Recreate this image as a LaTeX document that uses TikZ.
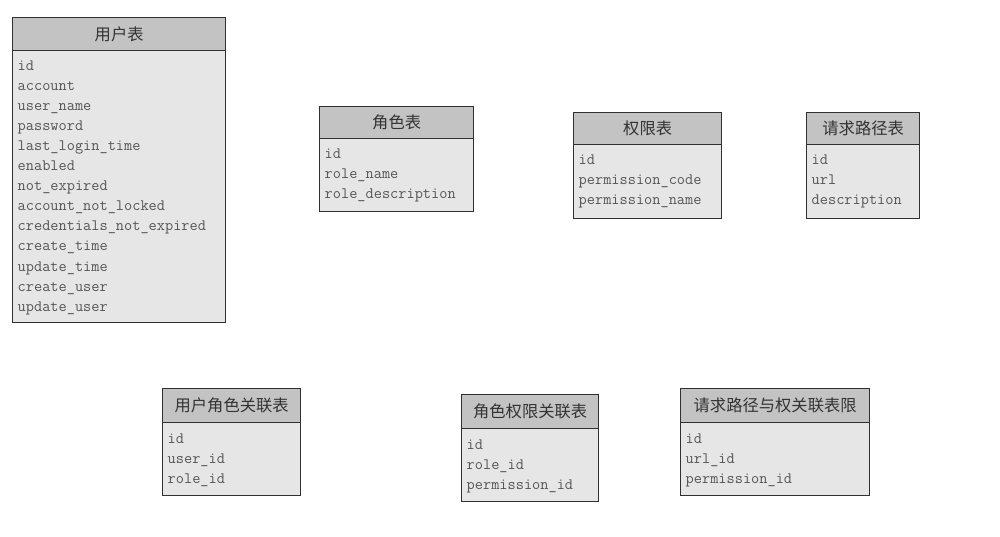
\documentclass[tikz,border=0pt]{standalone}
\usepackage{fontspec}
\newfontfamily\cjk{Noto Sans CJK SC}
\definecolor{hdr}{HTML}{C3C3C3}
\definecolor{bdy}{HTML}{E6E6E6}
\definecolor{edge}{HTML}{303030}
\definecolor{txt}{HTML}{555555}
\definecolor{shd}{HTML}{B8B8B8}
\tikzset{
  hdrbox/.style={draw=edge, fill=hdr, line width=1.3pt, inner sep=0pt, anchor=north west,
    font=\cjk\fontsize{16.3}{18}\selectfont, text=black!80},
  bodybox/.style={draw=edge, fill=bdy, line width=1.3pt, inner sep=0pt, anchor=north west},
  shadowbox/.style={fill=shd},
  field/.style={anchor=base west, inner sep=0pt, text=txt, font=\ttfamily\fontsize{15.9}{20}\selectfont}
}
% name, left, top, right, header bottom, bottom, title, fields
\newcommand\dbtable[8]{%
  \fill[shadowbox] (#2+1.2,#3+1.2) rectangle (#4+1.2,#6+1.2);
  \node[bodybox, minimum width={(#4-#2)*1pt}, minimum height={(#6-#5)*1pt}] (#1-b) at (#2,#5) {};
  \node[hdrbox, minimum width={(#4-#2)*1pt}, minimum height={(#5-#3)*1pt}] (#1-h) at (#2,#3) {#7};
  \foreach \f [count=\i] in {#8} {
    \node[field] (#1-f\i) at (#2+5.5,#5+1+20*\i) {\f};
  }%
}
\begin{document}
\begin{tikzpicture}[x=1pt,y=-1pt]
\useasboundingbox (0,0) rectangle (1000,537);
\dbtable{user}{12}{17}{225}{50}{322}{用户表}{id,account,user\_name,password,last\_login\_time,enabled,not\_expired,account\_not\_locked,credentials\_not\_expired,create\_time,update\_time,create\_user,update\_user}
\dbtable{role}{319}{106}{473}{138}{211}{角色表}{id,role\_name,role\_description}
\dbtable{perm}{573}{112}{721}{144}{218}{权限表}{id,permission\_code,permission\_name}
\dbtable{url}{806}{112}{919}{144}{218}{请求路径表}{id,url,description}
\dbtable{userrole}{162}{388}{300}{422}{495}{用户角色关联表}{id,user\_id,role\_id}
\dbtable{roleperm}{461}{394}{598}{428}{501}{角色权限关联表}{id,role\_id,permission\_id}
\dbtable{urlperm}{680}{388}{869}{422}{495}{请求路径与权关联表限}{id,url\_id,permission\_id}
\end{tikzpicture}
\end{document}
